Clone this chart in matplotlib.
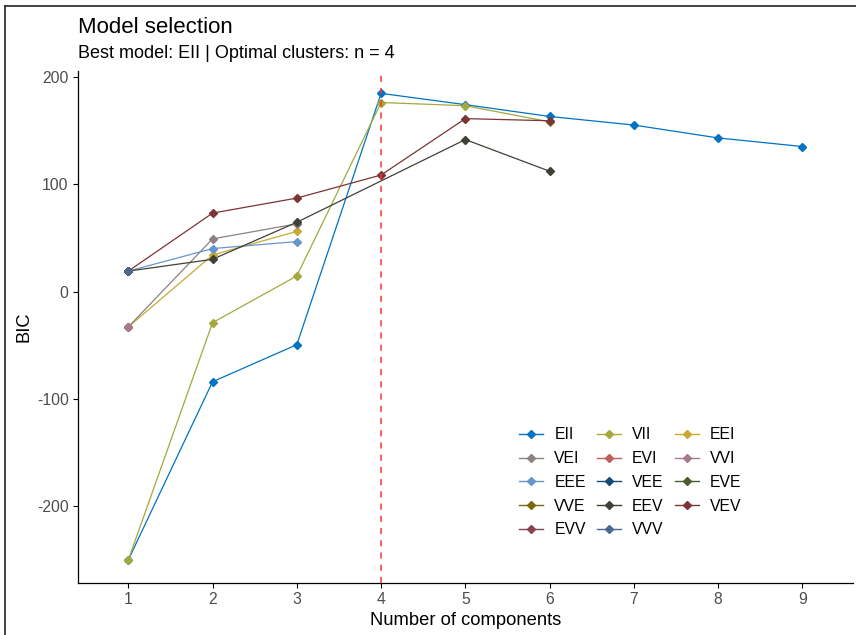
import numpy as np
import matplotlib
matplotlib.use("Agg")
import matplotlib.pyplot as plt
from matplotlib.lines import Line2D

plt.rcParams['font.family'] = ['Liberation Sans', 'DejaVu Sans']
plt.rcParams['axes.unicode_minus'] = False

# number of mixture components
n_comp = [1, 2, 3, 4, 5, 6, 7, 8, 9]
nan = np.nan

# BIC per model (nan = not fitted)
models = ['EII', 'VII', 'EEI', 'VEI', 'EVI', 'VVI', 'EEE', 'VEE',
          'EVE', 'VVE', 'EEV', 'VEV', 'EVV', 'VVV']
EII = [-250, -84, -49.5, 184.5, 174, 163, 155, 143, 135]
VII = [-250, -29, 14.5, 176, 173, 158, nan, nan, nan]
EEI = [-33, 34, 56, nan, nan, nan, nan, nan, nan]
VEI = [-33, 49, 63, nan, nan, nan, nan, nan, nan]
EVI = [-33, nan, nan, nan, nan, nan, nan, nan, nan]
VVI = [-33, nan, nan, nan, nan, nan, nan, nan, nan]
EEE = [19, 40, 46.5, nan, nan, nan, nan, nan, nan]
VEE = [19, nan, nan, nan, nan, nan, nan, nan, nan]
EVE = [19, nan, nan, nan, nan, nan, nan, nan, nan]
VVE = [19, nan, nan, nan, nan, nan, nan, nan, nan]
EEV = [19, 30, 64.5, nan, 141.5, 112, nan, nan, nan]
VEV = [19, 73, 87, 108.5, 161, 159, nan, nan, nan]
EVV = [19, nan, nan, nan, nan, nan, nan, nan, nan]
VVV = [19, nan, nan, nan, nan, nan, nan, nan, nan]
bic = [EII, VII, EEI, VEI, EVI, VVI, EEE, VEE, EVE, VVE, EEV, VEV, EVV, VVV]
best_n = 4

# jco palette stretched to 14 colours
colors = ['#0073C2', '#A5A83C', '#C7AA34', '#8B8281', '#BD5F59', '#A7798E',
          '#6796CA', '#134C79', '#4D5C30', '#7C690E', '#414036', '#7D3434',
          '#8A424E', '#4A6990']

fig = plt.figure(figsize=(8.56, 6.35), dpi=100)
ax = fig.add_axes([0.0908, 0.0814, 0.9057, 0.8074])

x = np.array(n_comp, dtype=float)
for vals, col in zip(bic, colors):
    y = np.array(vals, dtype=float)
    ok = ~np.isnan(y)
    ax.plot(x[ok], y[ok], color=col, lw=0.9, zorder=2)
for vals, col in zip(bic, colors):
    y = np.array(vals, dtype=float)
    ok = ~np.isnan(y)
    ax.plot(x[ok], y[ok], ls='none', marker='D', ms=3.6, color=col,
            mec=col, zorder=3)

ax.axvline(best_n, color='#FF3333', ls=(0, (4, 4)), lw=1.1, zorder=4)

ax.set_xlim(0.4, 9.6)
ax.set_ylim(-271.7, 205.7)
ax.set_xticks(n_comp)
ax.set_yticks([-200, -100, 0, 100, 200])
for s in ['top', 'right']:
    ax.spines[s].set_visible(False)
for s in ['left', 'bottom']:
    ax.spines[s].set_linewidth(0.9)
ax.tick_params(length=3.5, width=0.8, colors='black', labelcolor='#4D4D4D',
               labelsize=11.3, pad=3)

ax.set_xlabel('Number of components', fontsize=13.2, labelpad=3)
ax.set_ylabel('BIC', fontsize=13.2, labelpad=3)

fig.text(0.0908, 0.9485, 'Model selection', fontsize=16, va='baseline')
fig.text(0.0908, 0.908, 'Best model: EII | Optimal clusters: n = 4',
         fontsize=13, va='baseline')

# legend, filled row by row in three columns
handles = [Line2D([], [], color=c, lw=1.0, marker='D', ms=3.6) for c in colors]
order = [0, 3, 6, 9, 12, 1, 4, 7, 10, 13, 2, 5, 8, 11]
ax.legend([handles[i] for i in order], [models[i] for i in order],
          ncol=3, frameon=False, fontsize=11.3, handlelength=1.55,
          handletextpad=0.7, columnspacing=0.7, labelspacing=0.56,
          loc='lower left', bbox_to_anchor=(0.551, 0.062))

# screenshot frame
fig.add_artist(Line2D([0.006, 0.006], [0, 0.99], color='#333333', lw=1.3))
fig.add_artist(Line2D([0.006, 1], [0.99, 0.99], color='#333333', lw=1.3))

fig.savefig('out.png', dpi=100)
